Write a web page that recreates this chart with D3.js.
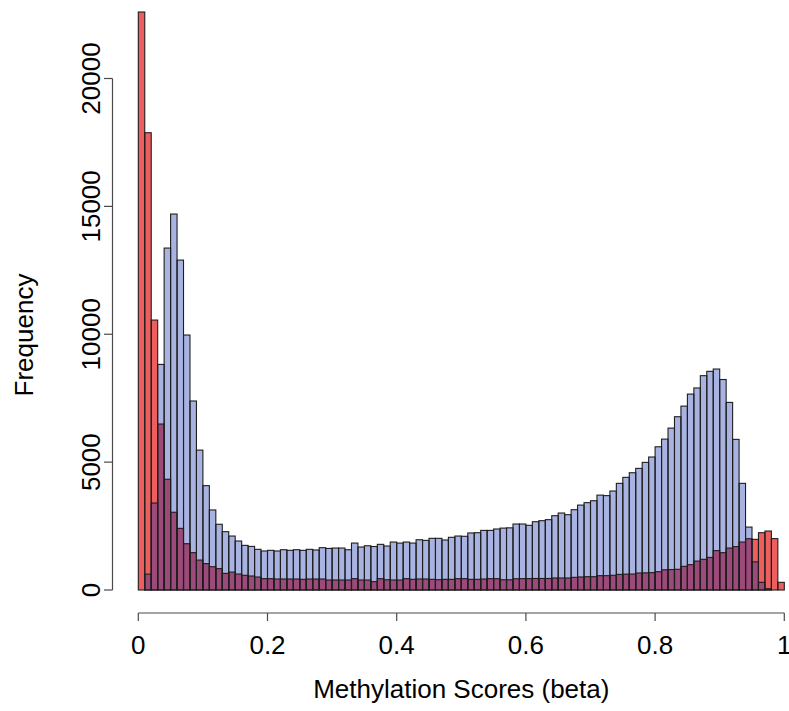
<!DOCTYPE html>
<html>
<head>
<meta charset="utf-8">
<script src="https://cdn.jsdelivr.net/npm/d3@7"></script>
<style>
  html, body { margin: 0; padding: 0; background: #ffffff; }
  svg { display: block; }
  text { font-family: "Liberation Sans", Arial, Helvetica, sans-serif; fill: #000; }
</style>
</head>
<body>
<svg id="chart" width="789" height="711"></svg>
<script>
// Histogram bins: 100 bins of width 0.01 on [0, 1]
const binEdges = d3.range(0, 101).map(i => i / 100);

// Counts per bin for the sample drawn in blue
const blueCounts = [
  0, 620, 3400, 8820, 13370, 14700, 12900, 9970, 7390, 5470,
  4080, 3130, 2570, 2280, 2110, 1915, 1745, 1705, 1590, 1525,
  1550, 1525, 1575, 1550, 1575, 1550, 1590, 1565, 1655, 1625,
  1640, 1640, 1575, 1835, 1680, 1730, 1700, 1785, 1720, 1875,
  1835, 1875, 1835, 1965, 1940, 2020, 2020, 1955, 2060, 2110,
  2100, 2230, 2240, 2330, 2330, 2385, 2420, 2430, 2580, 2580,
  2530, 2670, 2710, 2750, 2905, 3010, 2945, 3140, 3320, 3415,
  3490, 3710, 3690, 3870, 4170, 4405, 4585, 4755, 4990, 5200,
  5600, 5900, 6330, 6775, 7190, 7660, 7900, 8380, 8550, 8640,
  8230, 7335, 5890, 4170, 2460, 1100, 300, 50, 0, 0
];

// Counts per bin for the sample drawn in red
const redCounts = [
  22600, 17880, 10555, 6490, 4330, 3040, 2410, 1810, 1460, 1170,
  1030, 910, 835, 650, 700, 625, 575, 547, 508, 443,
  443, 430, 430, 430, 430, 417, 430, 430, 430, 391,
  391, 391, 391, 443, 391, 391, 326, 443, 400, 391,
  391, 443, 417, 430, 430, 417, 404, 417, 417, 443,
  443, 417, 417, 430, 443, 443, 400, 400, 440, 445,
  445, 450, 450, 450, 470, 470, 470, 495, 510, 520,
  520, 560, 560, 575, 610, 620, 625, 665, 670, 680,
  715, 790, 800, 810, 925, 990, 1130, 1200, 1275, 1540,
  1460, 1640, 1695, 1875, 2005, 1980, 2240, 2305, 2010, 300
];

const xTicks = [0, 0.2, 0.4, 0.6, 0.8, 1];
const xTickLabels = ["0", "0.2", "0.4", "0.6", "0.8", "1"];
const yTicks = [0, 5000, 10000, 15000, 20000];
const xTitle = "Methylation Scores (beta)";
const yTitle = "Frequency";

const colBlue = "#a9b3e1";
const colRed = "#ed5f5f";
const colBoth = "#9c4a7a";
const colEdge = "#1e1e1e";
const colAxis = "#4a4a4a";
const fontSize = 26;

const svg = d3.select("#chart");

const x = d3.scaleLinear().domain([0, 1]).range([138.3, 784.3]);
const y = d3.scaleLinear().domain([0, 20000]).range([590, 78.5]);

const bins = d3.range(100).map(i => ({
  x0: binEdges[i],
  x1: binEdges[i + 1],
  blue: blueCounts[i],
  red: redCounts[i]
}));

function rectLayer(cls, valueOf, fill, stroke) {
  svg.append("g").attr("class", cls)
    .selectAll("rect")
    .data(bins.filter(d => valueOf(d) > 0))
    .join("rect")
    .attr("x", d => x(d.x0))
    .attr("width", d => x(d.x1) - x(d.x0))
    .attr("y", d => y(valueOf(d)))
    .attr("height", d => y(0) - y(valueOf(d)))
    .attr("fill", fill)
    .attr("stroke", stroke)
    .attr("stroke-width", stroke === "none" ? 0 : 1.1);
}

// Fills first: each sample, then the shared part of the two histograms
rectLayer("fill-blue", d => d.blue, colBlue, "none");
rectLayer("fill-red", d => d.red, colRed, "none");
rectLayer("fill-both", d => Math.min(d.blue, d.red), colBoth, "none");
// Bar outlines on top
rectLayer("edge-blue", d => d.blue, "none", colEdge);
rectLayer("edge-red", d => d.red, "none", colEdge);

// Y axis (base-graphics style: detached line, outward ticks, rotated labels)
const yAxis = svg.append("g").attr("class", "y-axis");
yAxis.append("line")
  .attr("x1", 112.5).attr("x2", 112.5)
  .attr("y1", y(0)).attr("y2", y(20000))
  .attr("stroke", colAxis).attr("stroke-width", 1.2);
yAxis.selectAll("line.tick").data(yTicks).join("line")
  .attr("class", "tick")
  .attr("x1", 112.5).attr("x2", 104)
  .attr("y1", d => y(d)).attr("y2", d => y(d))
  .attr("stroke", colAxis).attr("stroke-width", 1.2);
yAxis.selectAll("text").data(yTicks).join("text")
  .attr("transform", d => `translate(100,${y(d)}) rotate(-90)`)
  .attr("text-anchor", "middle")
  .attr("font-size", fontSize)
  .text(d => d3.format("d")(d));

// X axis
const xAxis = svg.append("g").attr("class", "x-axis");
xAxis.append("line")
  .attr("x1", x(0)).attr("x2", x(1))
  .attr("y1", 613).attr("y2", 613)
  .attr("stroke", colAxis).attr("stroke-width", 1.2);
xAxis.selectAll("line.tick").data(xTicks).join("line")
  .attr("class", "tick")
  .attr("x1", d => x(d)).attr("x2", d => x(d))
  .attr("y1", 613).attr("y2", 621)
  .attr("stroke", colAxis).attr("stroke-width", 1.2);
xAxis.selectAll("text").data(xTicks).join("text")
  .attr("x", d => x(d))
  .attr("y", 654)
  .attr("text-anchor", "middle")
  .attr("font-size", fontSize)
  .text((d, i) => xTickLabels[i]);

// Axis titles
svg.append("text")
  .attr("x", (x(0) + x(1)) / 2)
  .attr("y", 698)
  .attr("text-anchor", "middle")
  .attr("font-size", fontSize)
  .text(xTitle);

svg.append("text")
  .attr("transform", `translate(33,335) rotate(-90)`)
  .attr("text-anchor", "middle")
  .attr("font-size", fontSize)
  .text(yTitle);
</script>
</body>
</html>
